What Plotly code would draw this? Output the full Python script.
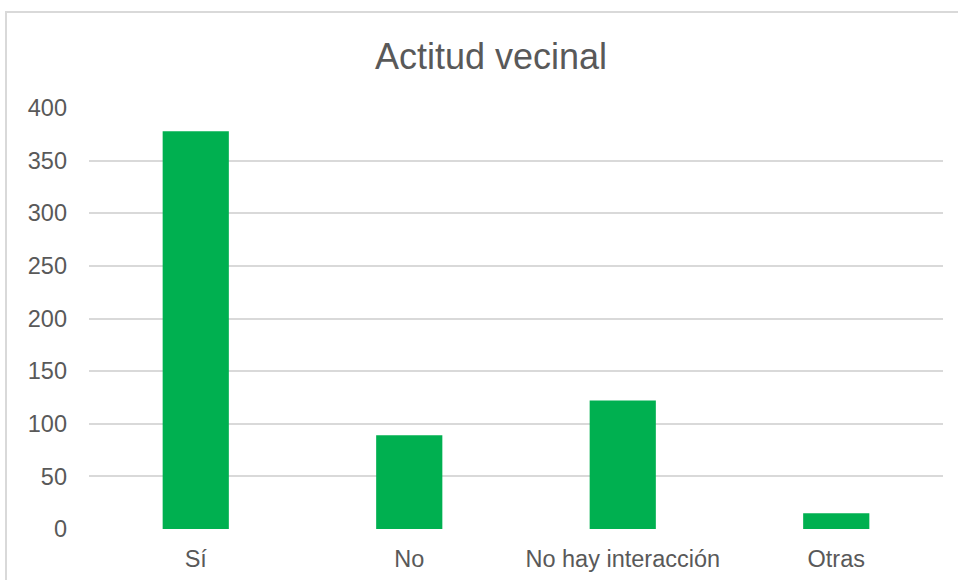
import plotly.graph_objects as go

categories = ["Sí", "No", "No hay interacción", "Otras"]
values = [378, 89, 122, 15]
y_ticks = [0, 50, 100, 150, 200, 250, 300, 350, 400]

W, H = 958, 580
# plot area in page pixels: x 89..943, y 108..529 (body margin removed)
L = 89
R = W - 943
T = 108
B = H - 529
pw, ph = W - L - R, H - T - B


def px_to_paper_x(px):
    return (px - L) / pw


def px_to_paper_y(py):
    return (H - B - py) / ph


fig = go.Figure()
fig.add_trace(go.Bar(
    x=categories, y=values,
    marker=dict(color="#00B050", line=dict(width=0)),
    hoverinfo="x+y",
))

fig.update_layout(
    width=W, height=H,
    margin=dict(l=L, r=R, t=T, b=B, autoexpand=False),
    paper_bgcolor="white", plot_bgcolor="white",
    bargap=0.69,
    showlegend=False,
    font=dict(family="Liberation Sans, Arial, sans-serif", color="#595959"),
    title=dict(
        text="Actitud vecinal",
        x=491 / W, xref="container", xanchor="center",
        y=1 - 56 / H, yref="container", yanchor="middle",
        font=dict(size=36, color="#595959"),
    ),
    xaxis=dict(
        showgrid=False, showline=False, zeroline=False, automargin=False,
        ticks="", tickfont=dict(size=23.5, color="#595959"),
        ticklabelstandoff=13,
    ),
    yaxis=dict(
        range=[0, 400], tickvals=y_ticks, automargin=False,
        showgrid=True, gridcolor="#D9D9D9", gridwidth=2,
        zeroline=False, showline=False, ticks="",
        tickfont=dict(size=23.5, color="#595959"),
        ticklabelstandoff=21,
    ),
    shapes=[dict(
        type="rect", xref="paper", yref="paper",
        x0=px_to_paper_x(6), x1=px_to_paper_x(990),
        y0=px_to_paper_y(620), y1=px_to_paper_y(12),
        line=dict(color="#D9D9D9", width=2), fillcolor="rgba(0,0,0,0)",
        layer="below",
    )],
)

fig.write_html(
    "out.html",
    config={"displayModeBar": False},
    post_script="document.body.style.margin='0';document.body.style.overflow='hidden';",
)
